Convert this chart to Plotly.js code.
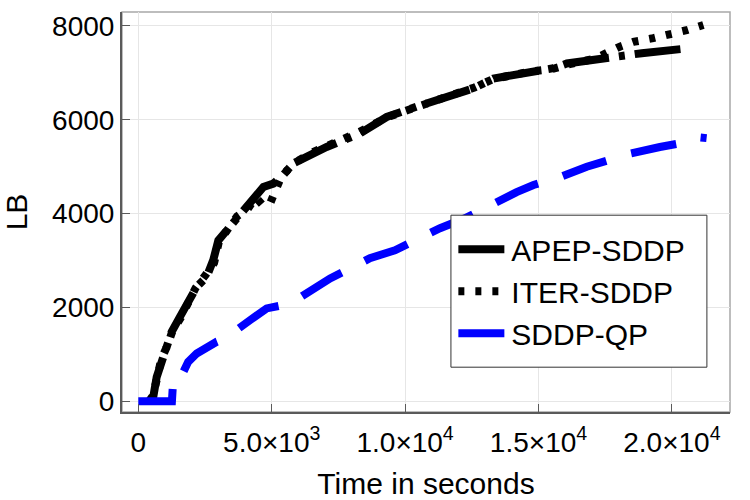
<!DOCTYPE html>
<html>
<head>
<meta charset="utf-8">
<script src="https://cdn.plot.ly/plotly-3.0.1.min.js"></script>
<style>
  html, body { margin: 0; padding: 0; background: #fff; }
  #chart { width: 750px; height: 500px; }
</style>
</head>
<body>
<div id="chart"></div>
<script>
// lower bound over time
const seriesNames = ['APEP-SDDP', 'ITER-SDDP', 'SDDP-QP']

const apepTime = [430, 560, 690, 880, 1120, 1250, 1560, 1870, 2190, 2560, 2810, 3000, 3310, 3750, 4060, 4440, 4690, 5060, 5430, 5810, 6560, 7060, 8310, 9310, 10430, 11680, 12560, 13310, 14810, 15560, 16060, 17680, 18870, 20550]
const apepLB = [0, 90, 520, 880, 1230, 1480, 1800, 2120, 2440, 2650, 3010, 3430, 3650, 3970, 4140, 4430, 4570, 4640, 4820, 5070, 5280, 5420, 5710, 6060, 6280, 6490, 6670, 6880, 7020, 7100, 7200, 7340, 7420, 7520]

const iterTime = [400, 540, 700, 860, 1100, 1280, 1590, 1900, 2150, 2530, 2840, 3020, 3350, 3700, 4100, 4400, 4700, 4950, 5350, 5800, 6500, 7100, 8250, 9300, 10500, 11600, 12600, 13300, 14700, 15500, 16100, 17100, 18050, 18550, 19300, 19930, 20550, 21180]
const iterLB = [0, 110, 480, 900, 1200, 1500, 1780, 2150, 2420, 2700, 2950, 3400, 3680, 3940, 4100, 4350, 4160, 4230, 4780, 5060, 5300, 5440, 5730, 6050, 6300, 6500, 6690, 6870, 7030, 7080, 7180, 7300, 7560, 7660, 7740, 7810, 7910, 8020]

const qpTime = [0, 1260, 1300, 1440, 1870, 2190, 2940, 3250, 4190, 4810, 5690, 6620, 7190, 7940, 8680, 9620, 10560, 11310, 12240, 13180, 14180, 14810, 15800, 16810, 17800, 18430, 19550, 20300, 20800, 21300]
const qpLB = [0, 0, 380, 330, 840, 1020, 1270, 1340, 1730, 1980, 2080, 2440, 2620, 2830, 3050, 3220, 3500, 3690, 3900, 4180, 4460, 4610, 4780, 5000, 5180, 5280, 5420, 5500, 5640, 5610]

const xTickVals = [0, 5000, 10000, 15000, 20000]
const xTickText = ['0', '5.0×10<sup>3</sup>', '1.0×10<sup>4</sup>', '1.5×10<sup>4</sup>', '2.0×10<sup>4</sup>']
const yTickVals = [0, 2000, 4000, 6000, 8000]

const font = '"Liberation Sans", Arial, sans-serif'

let data = [
    {
        x: apepTime,
        y: apepLB,
        name: seriesNames[0],
        type: 'scatter',
        mode: 'lines',
        line: {color: '#000000', width: 8, dash: '46px,10px,6px,10px'}
    },
    {
        x: iterTime,
        y: iterLB,
        name: seriesNames[1],
        type: 'scatter',
        mode: 'lines',
        line: {color: '#000000', width: 8, dash: '6px,11px'}
    },
    {
        x: qpTime,
        y: qpLB,
        name: seriesNames[2],
        type: 'scatter',
        mode: 'lines',
        line: {color: '#0000ff', width: 8, dash: '46px,26px'}
    }
]

let axisCommon = {
    showline: true,
    linecolor: '#5a5a5a',
    linewidth: 2,
    ticks: 'inside',
    ticklen: 8,
    tickwidth: 1,
    tickcolor: '#5a5a5a',
    showgrid: true,
    gridcolor: '#e6e6e6',
    gridwidth: 1,
    zeroline: false,
    tickfont: {family: font, size: 28, color: '#000'}
}

let layout = {
    width: 750,
    height: 500,
    margin: {l: 122, r: 20, t: 12, b: 88},
    paper_bgcolor: '#ffffff',
    plot_bgcolor: '#ffffff',
    showlegend: true,
    xaxis: Object.assign({}, axisCommon, {
        range: [-611, 22177],
        tickmode: 'array',
        tickvals: xTickVals,
        ticktext: xTickText,
        ticklabelstandoff: 4,
        title: {text: 'Time in seconds', font: {family: font, size: 30, color: '#000'}, standoff: 22}
    }),
    yaxis: Object.assign({}, axisCommon, {
        range: [-228, 8298],
        tickmode: 'array',
        tickvals: yTickVals,
        ticktext: yTickVals.map(String),
        title: {text: 'LB', font: {family: font, size: 30, color: '#000'}, standoff: 22}
    }),
    legend: {
        x: 0.545,
        y: 0.472,
        xanchor: 'left',
        yanchor: 'top',
        bgcolor: 'rgba(0,0,0,0)',
        borderwidth: 0,
        itemwidth: 48,
        font: {family: font, size: 30, color: '#000'}
    },
    shapes: [
        // light frame on top/right
        {type: 'rect', xref: 'paper', yref: 'paper', x0: 0, x1: 1, y0: 0, y1: 1,
         line: {color: '#a8a8a8', width: 1.5}, layer: 'below'},
        // legend box
        {type: 'rect', xref: 'paper', yref: 'paper', x0: 0.541, x1: 0.962, y0: 0.112, y1: 0.492,
         line: {color: '#333333', width: 1}, fillcolor: '#ffffff', layer: 'above'}
    ]
}

Plotly.newPlot('chart', data, layout, {displayModeBar: false, staticPlot: true})
</script>
</body>
</html>
